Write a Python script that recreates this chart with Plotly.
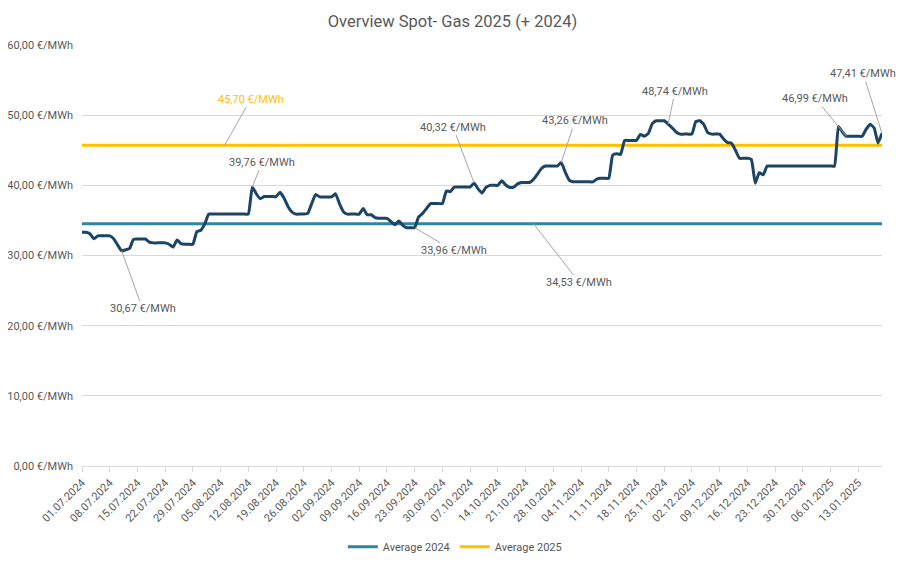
import pandas as pd
import plotly.graph_objects as go

# ---------------- data ----------------
start_date = "2024-07-01"
spot_prices = [
    33.3, 33.3, 33.1, 32.4, 32.8, 32.8, 32.8, 32.8, 32.4, 31.5,
    30.67, 30.8, 31.0, 32.3, 32.35, 32.35, 32.35, 31.9, 31.8, 31.8,
    31.8, 31.8, 31.6, 31.2, 32.2, 31.7, 31.6, 31.6, 31.6, 33.4,
    33.6, 34.5, 35.9, 35.9, 35.9, 35.9, 35.9, 35.9, 35.9, 35.9,
    35.9, 35.9, 35.9, 39.76, 38.8, 38.1, 38.4, 38.4, 38.4, 38.4,
    39.0, 38.2, 37.0, 36.2, 35.9, 35.9, 35.9, 36.0, 37.4, 38.7,
    38.35, 38.35, 38.35, 38.35, 38.8, 37.4, 36.25, 35.9, 35.9, 35.9,
    35.9, 36.7, 35.8, 35.8, 35.4, 35.3, 35.3, 35.3, 34.85, 34.4,
    34.9, 34.3, 33.96, 33.96, 33.96, 35.5, 36.0, 36.7, 37.4, 37.4,
    37.4, 37.4, 39.2, 39.1, 39.76, 39.76, 39.76, 39.76, 39.76, 40.32,
    39.5, 38.9, 39.7, 40.0, 40.0, 40.0, 40.66, 40.05, 39.7, 39.75,
    40.2, 40.4, 40.4, 40.4, 40.85, 41.6, 42.4, 42.75, 42.75, 42.75,
    42.75, 43.26, 41.9, 40.75, 40.5, 40.5, 40.5, 40.5, 40.5, 40.5,
    40.9, 41.0, 41.0, 41.0, 44.3, 44.5, 44.4, 46.4, 46.4, 46.4,
    46.4, 47.25, 47.0, 47.4, 48.8, 49.2, 49.2, 49.2, 48.74, 48.2,
    47.6, 47.3, 47.3, 47.3, 47.3, 49.1, 49.2, 48.7, 47.5, 47.3,
    47.3, 47.3, 46.6, 46.1, 46.0, 45.0, 43.85, 43.85, 43.85, 43.7,
    40.3, 41.8, 41.5, 42.75, 42.75, 42.75, 42.75, 42.75, 42.75, 42.75,
    42.75, 42.75, 42.75, 42.75, 42.75, 42.75, 42.75, 42.75, 42.75, 42.75,
    42.75, 48.4, 47.6, 46.99, 46.99, 46.99, 46.99, 46.99, 48.0, 48.7,
    48.2, 46.05, 47.41,
]
avg_2024 = 34.53
avg_2025 = 45.70
series_names = ["Average 2024", "Average 2025"]
y_ticks = [0, 10, 20, 30, 40, 50, 60]

# labelled points: dates whose values carry a leader-line label
labelled_dates = ["2024-07-11", "2024-08-13", "2024-09-23", "2024-10-08",
                  "2024-10-30", "2024-11-26", "2025-01-10", "2025-01-19"]
avg24_label_date = "2024-10-23"
avg25_label_date = "2024-08-06"

dates = pd.date_range(start_date, periods=len(spot_prices), freq="D")
series = pd.Series(spot_prices, index=dates)
tick_dates = pd.date_range(start_date, dates[-1], freq="7D")


def eur(v):
    return f"{v:.2f}".replace(".", ",") + " €/MWh"


FONT = "Roboto"
GREY = "#595959"
LINE_BLUE = "#1B4466"
TEAL = "#31859C"
GOLD = "#FFC000"

fig = go.Figure()
fig.add_trace(go.Scatter(
    x=[dates[0], dates[-1]], y=[avg_2024, avg_2024], mode="lines",
    name=series_names[0], line=dict(color=TEAL, width=3)))
fig.add_trace(go.Scatter(
    x=[dates[0], dates[-1]], y=[avg_2025, avg_2025], mode="lines",
    name=series_names[1], line=dict(color=GOLD, width=3)))
fig.add_trace(go.Scatter(
    x=dates, y=spot_prices, mode="lines", showlegend=False,
    line=dict(color=LINE_BLUE, width=3, shape="spline", smoothing=0.4)))

# label offsets (pixels) for each labelled point
offsets = [(21, 58), (10, -25), (39, 23), (-21, -56),
           (14, -42), (7, -33), (-31, -38), (-19, -60)]
annos = []
for d, (ax, ay) in zip(labelled_dates, offsets):
    v = float(series[pd.Timestamp(d)])
    annos.append(dict(x=d, y=v, xref="x", yref="y", text=eur(v),
                      ax=ax, ay=ay, showarrow=True, arrowhead=0,
                      arrowwidth=1, arrowcolor="#A6A6A6",
                      font=dict(family=FONT, size=11, color=GREY)))
annos.append(dict(x=avg24_label_date, y=avg_2024, xref="x", yref="y",
                  text=eur(avg_2024), ax=46, ay=59, showarrow=True,
                  arrowhead=0, arrowwidth=1, arrowcolor="#A6A6A6",
                  font=dict(family=FONT, size=11, color=GREY)))
annos.append(dict(x=avg25_label_date, y=avg_2025, xref="x", yref="y",
                  text=eur(avg_2025), ax=26, ay=-46, showarrow=True,
                  arrowhead=0, arrowwidth=1, arrowcolor="#A6A6A6",
                  font=dict(family=FONT, size=11, color=GOLD)))

fig.update_layout(
    width=907, height=567,
    margin=dict(l=74, r=33, t=37, b=109, autoexpand=False),
    paper_bgcolor="white", plot_bgcolor="white",
    title=dict(text="Overview Spot- Gas 2025 (+ 2024)", x=0.49, xanchor="center",
               xref="container", y=0.977, yanchor="middle",
               font=dict(family=FONT, size=16.5, color=GREY)),
    font=dict(family=FONT, size=11, color=GREY),
    showlegend=True,
    legend=dict(orientation="h", x=0.466, xanchor="center", y=-0.192,
                yanchor="middle", font=dict(family=FONT, size=11, color=GREY),
                itemwidth=30, bgcolor="rgba(0,0,0,0)"),
    annotations=annos,
)
fig.update_xaxes(
    range=[dates[0], dates[-1]], tickmode="array",
    tickvals=list(tick_dates),
    ticktext=[d.strftime("%d.%m.%Y") for d in tick_dates],
    tickangle=-45, showgrid=False, showline=True, linecolor="#D9D9D9",
    linewidth=1, ticks="outside", ticklen=5, tickcolor="#D9D9D9",
    tickfont=dict(family=FONT, size=11, color=GREY), zeroline=False)
fig.update_yaxes(
    range=[0, 60], tickmode="array", tickvals=y_ticks,
    ticktext=[eur(v) for v in y_ticks], showgrid=True, gridcolor="#D9D9D9",
    gridwidth=1, zeroline=False, showline=False, ticks="",
    ticklabelstandoff=8,
    tickfont=dict(family=FONT, size=11, color=GREY))

fig.write_html("out.html")
